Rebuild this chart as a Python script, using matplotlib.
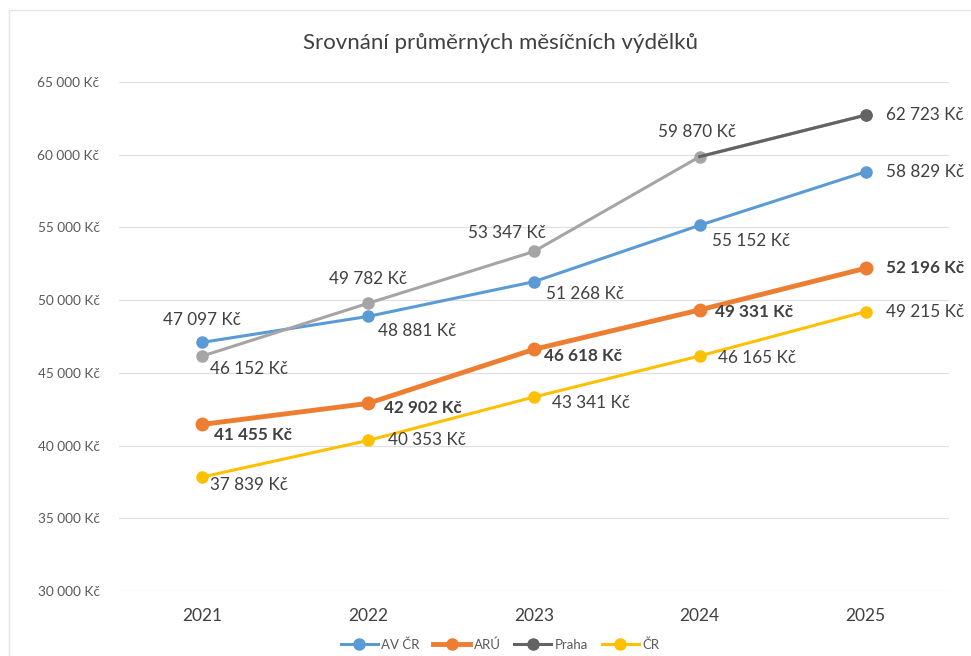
import matplotlib.pyplot as plt
from matplotlib.lines import Line2D
from matplotlib.patches import Rectangle

plt.rcParams['font.family'] = ['Lato', 'DejaVu Sans']

years = ['2021', '2022', '2023', '2024', '2025']
av_cr = [47097, 48881, 51268, 55152, 58829]
aru = [41455, 42902, 46618, 49331, 52196]
praha = [46152, 49782, 53347, 59870, 62723]
cr = [37839, 40353, 43341, 46165, 49215]
y_ticks = [30000, 35000, 40000, 45000, 50000, 55000, 60000, 65000]


def kc(v):
    return f'{v:,}'.replace(',', ' ') + ' Kč'


fig = plt.figure(figsize=(9.71, 6.56), dpi=100)
ax = fig.add_axes([0.1226, 0.099, 0.8544, 0.776])
fig.patches.append(Rectangle((0.009, -0.01), 1.1, 0.995, transform=fig.transFigure,
                             fill=False, edgecolor='#e4e4e4', lw=1))

x = list(range(len(years)))
blue, orange, grey, yellow = '#5b9bd5', '#ed7d31', '#a5a5a5', '#ffc000'
dark = '#636363'

ax.plot(x, av_cr, color=blue, lw=2.2, marker='o', ms=8, zorder=3)
ax.plot(x, aru, color=orange, lw=3.5, marker='o', ms=9, zorder=4)
ax.plot(x, praha, color=grey, lw=2.2, marker='o', ms=8, zorder=3)
ax.plot(x[3:], praha[3:], color=dark, lw=2.2, marker='o', ms=8,
        markevery=[1], zorder=3)
ax.plot(x, cr, color=yellow, lw=2.2, marker='o', ms=8, zorder=3)

# label offsets in pixels (dx, dy, ha)
offs = {
    'av': [(0, 22, 'center'), (10, -15, 'left'), (12, -12, 'left'), (12, -16, 'left'), (20, 0, 'left')],
    'praha': [(8, -13, 'left'), (0, 24, 'center'), (-27, 18, 'center'), (-3, 25, 'center'), (20, 0, 'left')],
    'aru': [(12, -11, 'left'), (16, -5, 'left'), (10, -7, 'left'), (15, -2, 'left'), (20, 0, 'left')],
    'cr': [(8, -8, 'left'), (20, 0, 'left'), (18, -6, 'left'), (18, -2, 'left'), (20, 0, 'left')],
}
series = [('av', av_cr, 'normal'), ('praha', praha, 'normal'),
          ('aru', aru, 'bold'), ('cr', cr, 'normal')]
for key, vals, weight in series:
    for i, v in enumerate(vals):
        dx, dy, ha = offs[key][i]
        ax.annotate(kc(v), (i, v), xytext=(dx, dy), textcoords='offset pixels',
                    ha=ha, va='center', fontsize=12.3, color='#404040',
                    fontweight=weight, zorder=5)

ax.set_xlim(-0.5, 4.5)
ax.set_ylim(30000, 65000)
ax.set_xticks(x)
ax.set_xticklabels(years, fontsize=12.5, color='#404040')
ax.set_yticks(y_ticks)
ax.set_yticklabels([kc(v) for v in y_ticks], fontsize=9.8, color='#595959')
ax.tick_params(length=0, axis='y', pad=14)
ax.tick_params(length=0, axis='x', pad=12)
ax.grid(axis='y', color='#e0e0e0', lw=0.9)
ax.set_axisbelow(True)
for s in ax.spines.values():
    s.set_visible(False)

fig.text(0.515, 0.935, 'Srovnání průměrných měsíčních výdělků', ha='center',
         va='center', fontsize=16, color='#404040')

labels = ['AV ČR', 'ARÚ', 'Praha', 'ČR']
colors = [blue, orange, dark, yellow]
widths = [2.2, 3.5, 2.2, 2.2]
handles = [Line2D([], [], color=c, lw=w, marker='o', ms=8) for c, w in zip(colors, widths)]
fig.legend(handles, labels, loc='center', bbox_to_anchor=(0.515, 0.017), ncol=4,
           frameon=False, fontsize=9.5, handlelength=2.8, columnspacing=1.0,
           handletextpad=0.3, labelcolor='#595959')

fig.savefig('out.png', dpi=100)
